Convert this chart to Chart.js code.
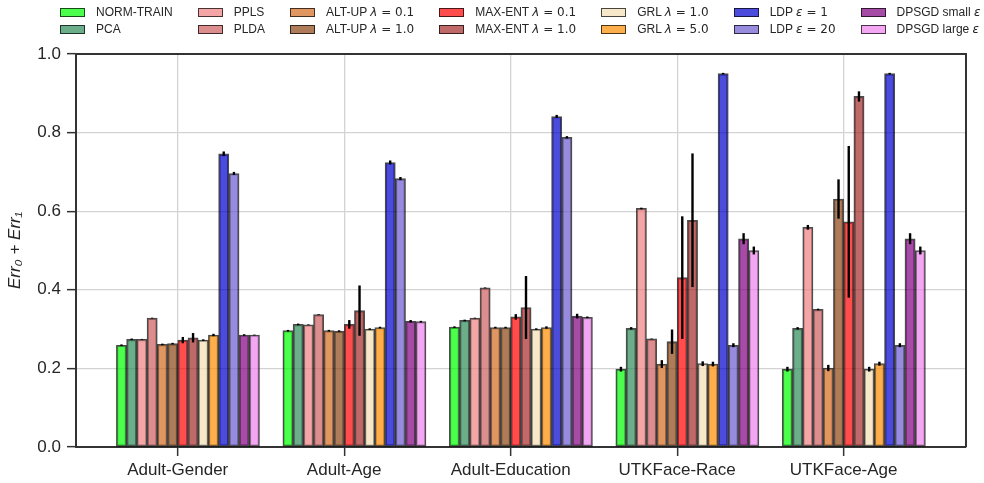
<!DOCTYPE html>
<html>
<head>
<meta charset="utf-8">
<script src="https://cdn.jsdelivr.net/npm/chart.js@4.4.1/dist/chart.umd.min.js"></script>
<style>
html,body{margin:0;padding:0;background:#fff;}
#wrap{position:relative;width:984px;height:483px;font-family:'Liberation Sans',Arial,sans-serif;color:#262626;}
#legend{position:absolute;left:60px;top:3.7px;display:flex;gap:25px;font-size:12px;white-space:pre;}
#legend .item{display:flex;align-items:center;height:17.2px;}
#legend .box{width:25px;height:9px;box-sizing:border-box;border:1.5px solid rgba(0,0,0,.7);margin-right:11px;}
#legend .m{font-family:'DejaVu Sans',sans-serif;font-size:12px;}
</style>
</head>
<body>
<div id="wrap">
  <canvas id="chart" width="984" height="483"></canvas>
  <div id="legend"></div>
</div>
<script>
/* ---- data ---- */
const CATEGORIES = ['Adult-Gender','Adult-Age','Adult-Education','UTKFace-Race','UTKFace-Age'];
const SERIES_NAMES = ['NORM-TRAIN','PCA','PPLS','PLDA','ALT-UP λ = 0.1','ALT-UP λ = 1.0',
  'MAX-ENT λ = 0.1','MAX-ENT λ = 1.0','GRL λ = 1.0','GRL λ = 5.0','LDP ε = 1','LDP ε = 20',
  'DPSGD small ε','DPSGD large ε'];
const Y_TICKS = [0,0.2,0.4,0.6,0.8,1.0];

const NORM_TRAIN      = [0.259,0.296,0.305,0.198,0.198];
const NORM_TRAIN_ERR  = [0.002,0.002,0.002,0.006,0.006];
const PCA             = [0.274,0.312,0.322,0.302,0.302];
const PCA_ERR         = [0.002,0.002,0.002,0.003,0.003];
const PPLS            = [0.274,0.311,0.328,0.607,0.559];
const PPLS_ERR        = [0.001,0.001,0.001,0.002,0.006];
const PLDA            = [0.328,0.337,0.405,0.275,0.350];
const PLDA_ERR        = [0.001,0.001,0.001,0.001,0.002];
const ALTUP_01        = [0.261,0.296,0.304,0.211,0.201];
const ALTUP_01_ERR    = [0.002,0.002,0.002,0.010,0.008];
const ALTUP_10        = [0.263,0.295,0.304,0.268,0.631];
const ALTUP_10_ERR    = [0.002,0.002,0.002,0.031,0.050];
const MAXENT_01       = [0.272,0.312,0.331,0.431,0.573];
const MAXENT_01_ERR   = [0.008,0.011,0.007,0.156,0.193];
const MAXENT_10       = [0.278,0.347,0.355,0.577,0.892];
const MAXENT_10_ERR   = [0.012,0.064,0.080,0.170,0.013];
const GRL_10          = [0.272,0.300,0.300,0.212,0.198];
const GRL_10_ERR      = [0.002,0.002,0.002,0.006,0.006];
const GRL_50          = [0.285,0.304,0.304,0.211,0.212];
const GRL_50_ERR      = [0.003,0.002,0.003,0.006,0.005];
const LDP_1           = [0.746,0.724,0.841,0.950,0.950];
const LDP_1_ERR       = [0.006,0.005,0.004,0.002,0.002];
const LDP_20          = [0.696,0.683,0.788,0.259,0.259];
const LDP_20_ERR      = [0.004,0.004,0.003,0.005,0.005];
const DPSGD_SMALL     = [0.285,0.320,0.333,0.530,0.530];
const DPSGD_SMALL_ERR = [0.002,0.003,0.006,0.014,0.014];
const DPSGD_LARGE     = [0.285,0.319,0.330,0.500,0.500];
const DPSGD_LARGE_ERR = [0.001,0.002,0.002,0.010,0.010];

const SERIES_VALUES = [NORM_TRAIN,PCA,PPLS,PLDA,ALTUP_01,ALTUP_10,MAXENT_01,MAXENT_10,GRL_10,GRL_50,LDP_1,LDP_20,DPSGD_SMALL,DPSGD_LARGE];
const SERIES_ERRORS = [NORM_TRAIN_ERR,PCA_ERR,PPLS_ERR,PLDA_ERR,ALTUP_01_ERR,ALTUP_10_ERR,MAXENT_01_ERR,MAXENT_10_ERR,GRL_10_ERR,GRL_50_ERR,LDP_1_ERR,LDP_20_ERR,DPSGD_SMALL_ERR,DPSGD_LARGE_ERR];

/* ---- style ---- */
const SERIES_COLORS = ['rgba(0,255,0,.7)','rgba(46,139,87,.7)','rgba(240,128,128,.7)','rgba(205,92,92,.7)',
  'rgba(210,105,30,.7)','rgba(139,69,19,.7)','rgba(255,0,0,.7)','rgba(165,42,42,.7)',
  'rgba(245,222,179,.7)','rgba(255,140,0,.7)','rgba(0,0,205,.7)','rgba(106,90,205,.7)',
  'rgba(128,0,128,.7)','rgba(238,130,238,.7)'];
const BAR_W = 0.0614;          // bar width in x-axis units
const GROUP_SHIFT = BAR_W;     // group centre sits one bar right of the tick
const INK = '#262626', GRID = '#d3d3d3', SPINE = '#333';

Chart.defaults.font.family = "'Liberation Sans', Arial, sans-serif";
Chart.defaults.color = INK;

/* error bars drawn on top of all bars */
const errorBars = {
  id:'errorBars',
  afterDatasetsDraw(chart){
    const {ctx} = chart, y = chart.scales.y;
    ctx.save(); ctx.strokeStyle = '#000'; ctx.lineWidth = 2.4;
    chart.data.datasets.forEach((ds,d)=>{
      chart.getDatasetMeta(d).data.forEach((bar,i)=>{
        const v = ds.data[i].y, e = ds.errors[i];
        ctx.beginPath();
        ctx.moveTo(bar.x, y.getPixelForValue(v-e));
        ctx.lineTo(bar.x, y.getPixelForValue(v+e));
        ctx.stroke();
      });
    });
    ctx.restore();
  }
};
/* top + right spines */
const frame = {
  id:'frame',
  afterDraw(chart){
    const {ctx, chartArea:a} = chart;
    ctx.save(); ctx.strokeStyle = SPINE; ctx.lineWidth = 2;
    ctx.beginPath(); ctx.moveTo(a.left, a.top); ctx.lineTo(a.right, a.top); ctx.lineTo(a.right, a.bottom); ctx.stroke();
    ctx.restore();
  }
};

const datasets = SERIES_NAMES.map((name,k)=>({
  label:name,
  data:SERIES_VALUES[k].map((v,i)=>({x:i+GROUP_SHIFT, y:v})),
  errors:SERIES_ERRORS[k],
  backgroundColor:SERIES_COLORS[k],
  borderColor:'rgba(0,0,0,.7)', borderWidth:1.5, borderSkipped:false,
  barThickness:BAR_W*166.5
}));

const axisGrid = {color:GRID, lineWidth:1.3, tickColor:SPINE, tickLength:9, tickWidth:1.5, offset:false};

new Chart(document.getElementById('chart'),{
  type:'bar',
  data:{datasets},
  options:{
    responsive:false, animation:false,
    layout:{padding:{left:0,top:54,right:18,bottom:0}},
    plugins:{legend:{display:false}, tooltip:{enabled:false}},
    scales:{
      x:{type:'linear', min:-0.611, max:4.735, offset:false,
        afterBuildTicks:ax=>{ ax.ticks = CATEGORIES.map((_,i)=>({value:i})); },
        afterFit:ax=>{ ax.height = 36; },
        grid:axisGrid, border:{color:SPINE,width:2},
        ticks:{callback:v=>CATEGORIES[v], font:{size:17}, color:INK, padding:4, maxRotation:0, autoSkip:false}},
      y:{min:0, max:1,
        afterBuildTicks:ax=>{ ax.ticks = Y_TICKS.map(v=>({value:v})); },
        afterFit:ax=>{ ax.width = 76; },
        grid:axisGrid, border:{color:SPINE,width:2},
        ticks:{callback:v=>v.toFixed(1), font:{size:17}, color:INK, padding:6},
        title:{display:true, text:'Err₀ + Err₁', font:{size:17,style:'italic'}, color:INK, padding:{top:5,bottom:0}}}
    }
  },
  plugins:[errorBars, frame]
});

/* legend laid out in columns of two, like the reference; the math part in DejaVu */
const legendEl = document.getElementById('legend');
for(let c=0;c<SERIES_NAMES.length;c+=2){
  const col = document.createElement('div');
  [c,c+1].forEach(k=>{
    const txt = SERIES_NAMES[k].replace(/([λε])(.*)$/,'<span class="m"><i>$1</i>$2</span>');
    col.innerHTML += `<div class="item"><span class="box" style="background:${SERIES_COLORS[k]}"></span><span>${txt}</span></div>`;
  });
  legendEl.appendChild(col);
}
</script>
</body>
</html>
